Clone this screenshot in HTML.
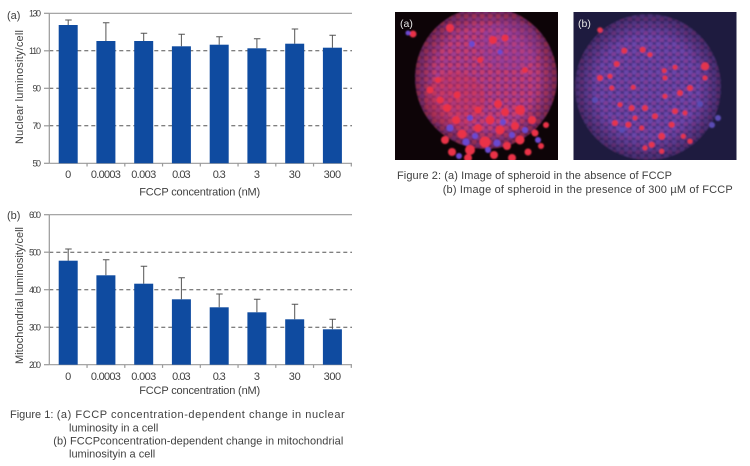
<!DOCTYPE html>
<html><head><meta charset="utf-8"><style>
html,body{margin:0;padding:0;background:#fff;}
svg{display:block;}
text{font-family:"Liberation Sans",sans-serif;fill:#404040;}
</style></head><body>
<svg width="750" height="466" viewBox="0 0 750 466" xmlns="http://www.w3.org/2000/svg">
<defs>
<pattern id="pa" width="8" height="7" patternUnits="userSpaceOnUse">
<rect width="8" height="7" fill="#862c70"/>
<circle cx="2" cy="2" r="2.7" fill="#c43e70"/>
<circle cx="6" cy="5.5" r="2.7" fill="#a03c90"/>
</pattern>
<pattern id="pb" width="8" height="7" patternUnits="userSpaceOnUse">
<rect width="8" height="7" fill="#4a3284"/>
<circle cx="2" cy="2" r="2.7" fill="#6a44a8"/>
<circle cx="6" cy="5.5" r="2.7" fill="#7c3c98"/>
</pattern>
<radialGradient id="ga" cx="0.5" cy="0.5" r="0.5">
<stop offset="0.7" stop-color="#000" stop-opacity="0"/>
<stop offset="1" stop-color="#000" stop-opacity="0.35"/>
</radialGradient>
<filter id="bl" x="-10%" y="-10%" width="120%" height="120%"><feGaussianBlur stdDeviation="0.7"/></filter>
<clipPath id="ca"><rect x="395" y="12" width="163" height="148"/></clipPath>
<clipPath id="cb"><rect x="573.5" y="12" width="163" height="148"/></clipPath>
</defs>

<!-- ===== Chart (a) ===== -->
<g stroke="#555" stroke-width="1" stroke-dasharray="4,3">
<line x1="49.3" y1="50.8" x2="352" y2="50.8"/>
<line x1="49.3" y1="88.3" x2="352" y2="88.3"/>
<line x1="49.3" y1="125.8" x2="352" y2="125.8"/>
</g>
<g stroke="#999" stroke-width="1.2">
<line x1="49.3" y1="13.3" x2="352" y2="13.3"/>
<line x1="49.3" y1="13.3" x2="49.3" y2="163.3"/>
<line x1="49.3" y1="163.3" x2="352" y2="163.3"/>
<line x1="44" y1="13.3" x2="49.3" y2="13.3"/>
<line x1="44" y1="50.8" x2="49.3" y2="50.8"/>
<line x1="44" y1="88.3" x2="49.3" y2="88.3"/>
<line x1="44" y1="125.8" x2="49.3" y2="125.8"/>
<line x1="44" y1="163.3" x2="49.3" y2="163.3"/>
<line x1="87.05" y1="163.3" x2="87.05" y2="166.5"/>
<line x1="124.8" y1="163.3" x2="124.8" y2="166.5"/>
<line x1="162.55" y1="163.3" x2="162.55" y2="166.5"/>
<line x1="200.3" y1="163.3" x2="200.3" y2="166.5"/>
<line x1="238.05" y1="163.3" x2="238.05" y2="166.5"/>
<line x1="275.8" y1="163.3" x2="275.8" y2="166.5"/>
<line x1="313.55" y1="163.3" x2="313.55" y2="166.5"/>
<line x1="351.3" y1="163.3" x2="351.3" y2="166.5"/>
</g>
<g stroke="#555" stroke-width="1">
<path d="M68.2 25V20M65.2 20H71.7"/>
<path d="M105.9 41V22.7M102.9 22.7H109.4"/>
<path d="M143.7 41V33.3M140.7 33.3H147.2"/>
<path d="M181.4 46.3V34.3M178.4 34.3H184.9"/>
<path d="M219.2 44.7V36.7M216.2 36.7H222.7"/>
<path d="M256.9 48.3V38.7M253.9 38.7H260.4"/>
<path d="M294.7 43.7V29M291.7 29H298.2"/>
<path d="M332.4 47.7V35.3M329.4 35.3H335.9"/>
</g>
<g fill="#0f4ba0">
<rect x="58.7" y="25" width="19" height="138.3"/>
<rect x="96.4" y="41" width="19" height="122.3"/>
<rect x="134.2" y="41" width="19" height="122.3"/>
<rect x="171.9" y="46.3" width="19" height="117"/>
<rect x="209.7" y="44.7" width="19" height="118.6"/>
<rect x="247.4" y="48.3" width="19" height="115"/>
<rect x="285.2" y="43.7" width="19" height="119.6"/>
<rect x="322.9" y="47.7" width="19" height="115.6"/>
</g>
<g font-size="9" text-anchor="end">
<text x="41" y="16.5" textLength="12">130</text>
<text x="41" y="54" textLength="12">110</text>
<text x="41" y="91.5" textLength="8.5">90</text>
<text x="41" y="129" textLength="8.5">70</text>
<text x="41" y="166.5" textLength="8.5">50</text>
</g>
<text x="7" y="19" font-size="11">(a)</text>
<g font-size="11" text-anchor="middle">
<text x="68.2" y="178">0</text>
<text x="105.9" y="178" textLength="30">0.0003</text>
<text x="143.7" y="178" textLength="25">0.003</text>
<text x="181.4" y="178" textLength="18.5">0.03</text>
<text x="219.2" y="178" textLength="13">0.3</text>
<text x="256.9" y="178">3</text>
<text x="294.7" y="178" textLength="12">30</text>
<text x="332.4" y="178" textLength="17.5">300</text>
<text x="199.7" y="195.5" textLength="121">FCCP concentration (nM)</text>
<text transform="translate(23,87) rotate(-90)" textLength="114">Nuclear luminosity/cell</text>
</g>

<!-- ===== Chart (b) ===== -->
<g stroke="#555" stroke-width="1" stroke-dasharray="4,3">
<line x1="49.3" y1="252.2" x2="352" y2="252.2"/>
<line x1="49.3" y1="289.7" x2="352" y2="289.7"/>
<line x1="49.3" y1="327.2" x2="352" y2="327.2"/>
</g>
<g stroke="#999" stroke-width="1.2">
<line x1="49.3" y1="214.7" x2="352" y2="214.7"/>
<line x1="49.3" y1="214.7" x2="49.3" y2="364.7"/>
<line x1="49.3" y1="364.7" x2="352" y2="364.7"/>
<line x1="44" y1="214.7" x2="49.3" y2="214.7"/>
<line x1="44" y1="252.2" x2="49.3" y2="252.2"/>
<line x1="44" y1="289.7" x2="49.3" y2="289.7"/>
<line x1="44" y1="327.2" x2="49.3" y2="327.2"/>
<line x1="44" y1="364.7" x2="49.3" y2="364.7"/>
<line x1="87.05" y1="364.7" x2="87.05" y2="367.9"/>
<line x1="124.8" y1="364.7" x2="124.8" y2="367.9"/>
<line x1="162.55" y1="364.7" x2="162.55" y2="367.9"/>
<line x1="200.3" y1="364.7" x2="200.3" y2="367.9"/>
<line x1="238.05" y1="364.7" x2="238.05" y2="367.9"/>
<line x1="275.8" y1="364.7" x2="275.8" y2="367.9"/>
<line x1="313.55" y1="364.7" x2="313.55" y2="367.9"/>
<line x1="351.3" y1="364.7" x2="351.3" y2="367.9"/>
</g>
<g stroke="#555" stroke-width="1">
<path d="M68.2 260.7V249M65.2 249H71.7"/>
<path d="M105.9 275.3V259.7M102.9 259.7H109.4"/>
<path d="M143.7 283.7V266.3M140.7 266.3H147.2"/>
<path d="M181.4 299.3V277.7M178.4 277.7H184.9"/>
<path d="M219.2 307.3V294M216.2 294H222.7"/>
<path d="M256.9 312.3V299.3M253.9 299.3H260.4"/>
<path d="M294.7 319.3V304.3M291.7 304.3H298.2"/>
<path d="M332.4 329.3V319.3M329.4 319.3H335.9"/>
</g>
<g fill="#0f4ba0">
<rect x="58.7" y="260.7" width="19" height="104"/>
<rect x="96.4" y="275.3" width="19" height="89.4"/>
<rect x="134.2" y="283.7" width="19" height="81"/>
<rect x="171.9" y="299.3" width="19" height="65.4"/>
<rect x="209.7" y="307.3" width="19" height="57.4"/>
<rect x="247.4" y="312.3" width="19" height="52.4"/>
<rect x="285.2" y="319.3" width="19" height="45.4"/>
<rect x="322.9" y="329.3" width="19" height="35.4"/>
</g>
<g font-size="9" text-anchor="end">
<text x="41" y="217.9" textLength="12">600</text>
<text x="41" y="255.4" textLength="12">500</text>
<text x="41" y="292.9" textLength="12">400</text>
<text x="41" y="330.4" textLength="12">300</text>
<text x="41" y="367.9" textLength="12">200</text>
</g>
<text x="7" y="219" font-size="11">(b)</text>
<g font-size="11" text-anchor="middle">
<text x="68.2" y="380">0</text>
<text x="105.9" y="380" textLength="30">0.0003</text>
<text x="143.7" y="380" textLength="25">0.003</text>
<text x="181.4" y="380" textLength="18.5">0.03</text>
<text x="219.2" y="380" textLength="13">0.3</text>
<text x="256.9" y="380">3</text>
<text x="294.7" y="380" textLength="12">30</text>
<text x="332.4" y="380" textLength="17.5">300</text>
<text x="199.7" y="394" textLength="121">FCCP concentration (nM)</text>
<text transform="translate(23,295.5) rotate(-90)" textLength="137">Mitochondrial luminosity/cell</text>
</g>

<!-- ===== Figure 1 caption ===== -->
<g font-size="11">
<text x="10" y="418">Figure 1:</text>
<text x="56.7" y="418" textLength="288" lengthAdjust="spacing">(a) FCCP concentration-dependent change in nuclear</text>
<text x="69" y="431.3">luminosity in a cell</text>
<text x="53.3" y="444.7" textLength="290" lengthAdjust="spacing">(b) FCCPconcentration-dependent change in mitochondrial</text>
<text x="69" y="457.3">luminosityin a cell</text>
</g>

<!-- ===== Photo (a) ===== -->
<g clip-path="url(#ca)">
<rect x="395" y="12" width="163" height="148" fill="#0d0407"/>
<g filter="url(#bl)">
<circle cx="486" cy="78" r="71" fill="url(#pa)"/>
<circle cx="486" cy="78" r="71" fill="url(#ga)"/>
<ellipse cx="455" cy="100" rx="30" ry="28" fill="#d0304a" opacity="0.3"/>
<ellipse cx="510" cy="45" rx="30" ry="25" fill="#7a40b0" opacity="0.25"/>
<g fill="#ea3246">
<circle cx="445" cy="140" r="4"/><circle cx="452" cy="152" r="4"/><circle cx="462" cy="134" r="4.5"/>
<circle cx="470" cy="150" r="5"/><circle cx="478" cy="128" r="4"/><circle cx="485" cy="142" r="5.5"/>
<circle cx="494" cy="155" r="4"/><circle cx="500" cy="130" r="4.5"/><circle cx="507" cy="146" r="4"/>
<circle cx="515" cy="126" r="4"/><circle cx="520" cy="140" r="4.5"/><circle cx="528" cy="152" r="3.5"/>
<circle cx="535" cy="133" r="3.5"/><circle cx="541" cy="146" r="3"/><circle cx="456" cy="120" r="4"/>
<circle cx="490" cy="120" r="4.5"/><circle cx="505" cy="112" r="4"/><circle cx="520" cy="110" r="5"/>
<circle cx="532" cy="120" r="4"/><circle cx="447" cy="108" r="4"/><circle cx="457" cy="95" r="3.5"/>
<circle cx="440" cy="100" r="3.5"/><circle cx="430" cy="90" r="3.5"/><circle cx="468" cy="158" r="4"/>
<circle cx="512" cy="158" r="4"/><circle cx="546" cy="125" r="3"/><circle cx="498" cy="104" r="4"/>
<circle cx="478" cy="110" r="3.5"/><circle cx="450" cy="28" r="4"/><circle cx="493" cy="40" r="4"/>
<circle cx="505" cy="38" r="3.5"/><circle cx="480" cy="60" r="3"/><circle cx="413" cy="34" r="3.5"/>
<circle cx="438" cy="80" r="3"/><circle cx="525" cy="70" r="3"/>
</g>
<g fill="#6a4ad0">
<circle cx="450" cy="128" r="3.5"/><circle cx="466" cy="142" r="3.5"/><circle cx="475" cy="136" r="3"/>
<circle cx="497" cy="143" r="3.5"/><circle cx="512" cy="135" r="3"/><circle cx="525" cy="130" r="3"/>
<circle cx="488" cy="150" r="3"/><circle cx="459" cy="156" r="3"/><circle cx="538" cy="140" r="3"/>
<circle cx="503" cy="122" r="3"/><circle cx="470" cy="118" r="3"/><circle cx="408" cy="33" r="2.5"/>
<circle cx="472" cy="44" r="3"/><circle cx="500" cy="52" r="2.5"/>
</g>
</g>
</g>
<text x="400" y="27" font-size="10.5" style="fill:#e6e6e6">(a)</text>

<!-- ===== Photo (b) ===== -->
<g clip-path="url(#cb)">
<rect x="573.5" y="12" width="163" height="148" fill="#1e1b3f"/>
<g filter="url(#bl)">
<circle cx="648" cy="87" r="73" fill="url(#pb)"/>
<circle cx="648" cy="87" r="73" fill="url(#ga)"/>
<g fill="#e4344e">
<circle cx="600" cy="30" r="2.8"/><circle cx="624.3" cy="50.7" r="3"/><circle cx="642.7" cy="49.7" r="3"/>
<circle cx="650" cy="54.7" r="2.5"/><circle cx="705" cy="66.3" r="4"/><circle cx="616.7" cy="64" r="3"/>
<circle cx="664.3" cy="70.7" r="2.5"/><circle cx="675" cy="67.3" r="2.5"/><circle cx="600" cy="78" r="3"/>
<circle cx="610" cy="76.3" r="2.5"/><circle cx="665" cy="78" r="2.5"/><circle cx="705" cy="78" r="2.5"/>
<circle cx="690" cy="88" r="3"/><circle cx="680" cy="93" r="3"/><circle cx="611.7" cy="88" r="2.5"/>
<circle cx="633.3" cy="87.3" r="2.5"/><circle cx="665" cy="96.3" r="2.5"/><circle cx="631.7" cy="108" r="3"/>
<circle cx="645" cy="108" r="3"/><circle cx="675" cy="111.3" r="3"/><circle cx="685" cy="113" r="2.5"/>
<circle cx="615" cy="123" r="3"/><circle cx="628.3" cy="124.7" r="3"/><circle cx="641.7" cy="128" r="2.5"/>
<circle cx="661.7" cy="136.3" r="3.5"/><circle cx="671.7" cy="124.7" r="3"/><circle cx="683.3" cy="136.3" r="2.5"/>
<circle cx="651.7" cy="144.7" r="3"/><circle cx="645" cy="148" r="2.5"/><circle cx="661.7" cy="151.3" r="2.5"/>
<circle cx="690" cy="141.3" r="2.5"/><circle cx="635" cy="118" r="2.5"/><circle cx="655" cy="116.3" r="3"/>
<circle cx="620" cy="104.7" r="2.5"/>
</g>
<g fill="#5a4cb4">
<circle cx="718" cy="118" r="3"/><circle cx="712" cy="125" r="3"/><circle cx="700" cy="104" r="3"/>
<circle cx="622" cy="130" r="3"/><circle cx="595" cy="100" r="3"/>
</g>
</g>
</g>
<text x="578" y="27" font-size="10.5" style="fill:#e6e6e6">(b)</text>

<!-- ===== Figure 2 caption ===== -->
<g font-size="11">
<text x="397" y="179" textLength="275" lengthAdjust="spacing">Figure 2: (a) Image of spheroid in the absence of FCCP</text>
<text x="442.7" y="193" textLength="290" lengthAdjust="spacing">(b) Image of spheroid in the presence of 300 µM of FCCP</text>
</g>
</svg>
</body></html>
